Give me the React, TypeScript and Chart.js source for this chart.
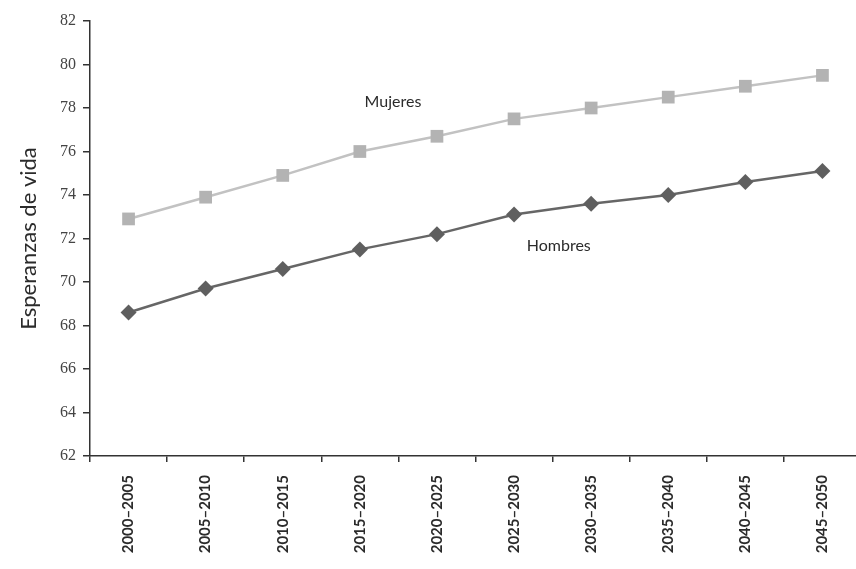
import React, { useEffect, useRef } from "react";
import { Chart, registerables } from "chart.js";

Chart.register(...registerables);

const categories = [
  "2000\u20132005",
  "2005\u20132010",
  "2010\u20132015",
  "2015\u20132020",
  "2020\u20132025",
  "2025\u20132030",
  "2030\u20132035",
  "2035\u20132040",
  "2040\u20132045",
  "2045\u20132050",
];
const mujeres = [72.9, 73.9, 74.9, 76.0, 76.7, 77.5, 78.0, 78.5, 79.0, 79.5];
const hombres = [68.6, 69.7, 70.6, 71.5, 72.2, 73.1, 73.6, 74.0, 74.6, 75.1];
const yMin = 62;
const yMax = 82;
const yStep = 2;
const yTitle = "Esperanzas de vida";
const labelTexts = ["Mujeres", "Hombres"];
const labelX = [3.43, 5.58];
const labelY = [78.3, 71.65];

const annotationPlugin = {
  id: "seriesLabels",
  afterDatasetsDraw(chart: any) {
    const { ctx, scales } = chart;
    ctx.save();
    ctx.font = "16px Lato";
    ctx.fillStyle = "#2b2b2b";
    ctx.textAlign = "center";
    ctx.textBaseline = "middle";
    labelTexts.forEach((t, i) => {
      ctx.fillText(t, scales.x.getPixelForValue(labelX[i]), scales.y.getPixelForValue(labelY[i]));
    });
    ctx.restore();
  },
};

export default function App() {
  const ref = useRef<HTMLCanvasElement>(null);
  useEffect(() => {
    if (!ref.current) return;
    const chart = new Chart(ref.current, {
      type: "line",
      data: {
        labels: categories,
        datasets: [
          {
            label: "Mujeres",
            data: mujeres,
            borderColor: "#c2c2c2",
            backgroundColor: "#b3b3b3",
            pointBackgroundColor: "#b3b3b3",
            pointBorderColor: "#b3b3b3",
            borderWidth: 2.5,
            pointStyle: "rect",
            pointRadius: 9,
            pointBorderWidth: 0,
            tension: 0,
          },
          {
            label: "Hombres",
            data: hombres,
            borderColor: "#666",
            backgroundColor: "#5f5f5f",
            pointBackgroundColor: "#5f5f5f",
            pointBorderColor: "#5f5f5f",
            borderWidth: 2.5,
            pointStyle: "rectRot",
            pointRadius: 8,
            pointBorderWidth: 0,
            tension: 0,
          },
        ],
      },
      options: {
        animation: false,
        responsive: false,
        devicePixelRatio: 1,
        layout: { padding: { top: 21, right: 3, left: 0, bottom: 0 } },
        plugins: { legend: { display: false }, tooltip: { enabled: false } },
        scales: {
          x: {
            type: "category",
            offset: true,
            afterFit: (s: any) => {
              s.height = 113;
            },
            grid: {
              offset: true,
              drawOnChartArea: false,
              drawTicks: true,
              tickLength: 6,
              color: "#333",
              lineWidth: 1.5,
            },
            border: { display: true, color: "#333", width: 1.5 },
            ticks: {
              autoSkip: false,
              minRotation: 90,
              maxRotation: 90,
              padding: 13,
              color: "#2b2b2b",
              font: { family: "Lato", size: 15, weight: "bold" },
            },
          },
          y: {
            min: yMin,
            max: yMax,
            afterFit: (s: any) => {
              s.width = 90;
            },
            grid: {
              drawOnChartArea: false,
              drawTicks: true,
              tickLength: 7,
              color: "#333",
              lineWidth: 1.5,
            },
            border: { display: true, color: "#333", width: 1.5 },
            ticks: {
              stepSize: yStep,
              padding: 7,
              color: "#444",
              font: { family: "Liberation Serif", size: 16 },
            },
            title: {
              display: true,
              text: yTitle,
              color: "#2b2b2b",
              font: { family: "Lato", size: 22 },
              padding: { top: 16, bottom: 0 },
            },
          },
        },
      },
      plugins: [annotationPlugin],
    });
    return () => chart.destroy();
  }, []);
  return (
    <div
      style={{
        position: "fixed",
        left: 0,
        top: 0,
        width: 856,
        height: 569,
        overflow: "hidden",
        background: "#fff",
      }}
    >
      <canvas ref={ref} width={870} height={569} style={{ display: "block" }} />
    </div>
  );
}
